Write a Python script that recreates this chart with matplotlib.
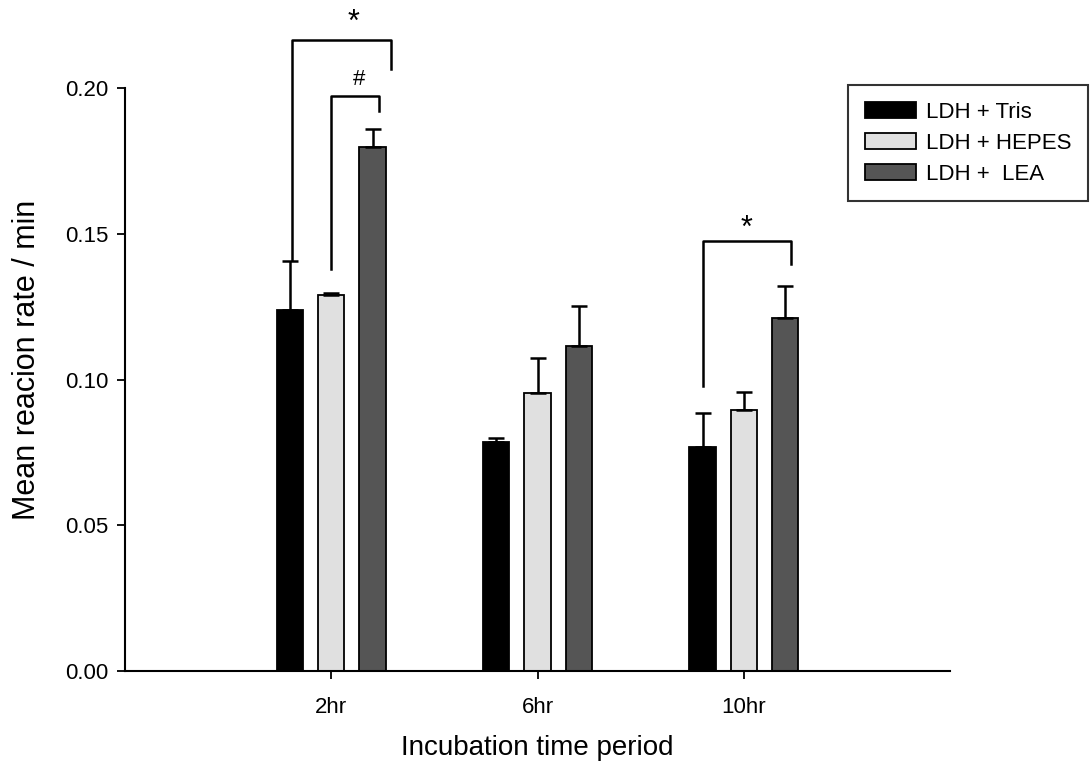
import matplotlib
matplotlib.use("Agg")
import matplotlib.pyplot as plt
import numpy as np

plt.rcParams['font.family'] = ['Liberation Sans', 'DejaVu Sans']

# data
time_labels = ['2hr', '6hr', '10hr']
series_names = ['LDH + Tris', 'LDH + HEPES', 'LDH +  LEA']
tris_mean = [0.124, 0.0785, 0.0769]
tris_err = [0.0165, 0.0016, 0.0116]
hepes_mean = [0.129, 0.0953, 0.0895]
hepes_err = [0.0006, 0.0120, 0.0063]
lea_mean = [0.1797, 0.1115, 0.121]
lea_err = [0.0064, 0.0137, 0.0111]

means = [tris_mean, hepes_mean, lea_mean]
errs = [tris_err, hepes_err, lea_err]
colors = ['#000000', '#e0e0e0', '#555555']

fig = plt.figure(figsize=(10.91, 7.72), dpi=100)
ax = fig.add_axes([125 / 1091, 1 - 671 / 772, 825 / 1091, (671 - 88) / 772])

x = np.arange(len(time_labels))
width = 0.128
offsets = [-0.2, 0.0, 0.2]

for m, e, c, name, off in zip(means, errs, colors, series_names, offsets):
    ax.bar(x + off, m, width, color=c, edgecolor='black', linewidth=1.3,
           label=name, zorder=2)
    ax.errorbar(x + off, m, yerr=[np.zeros(len(e)), e], fmt='none',
                ecolor='black', elinewidth=1.8, capsize=6, capthick=1.8,
                zorder=3)

ax.set_xlim(-1.0, 3.0)
ax.set_ylim(0, 0.2)
ax.set_xticks(x)
ax.set_xticklabels(time_labels)
ax.set_yticks([0.0, 0.05, 0.10, 0.15, 0.20])
ax.yaxis.set_major_formatter(matplotlib.ticker.FormatStrFormatter('%.2f'))

for s in ['top', 'right']:
    ax.spines[s].set_visible(False)
for s in ['left', 'bottom']:
    ax.spines[s].set_linewidth(1.5)
ax.tick_params(direction='out', length=6, width=1.3, labelsize=16)
ax.tick_params(axis='x', pad=13)
ax.tick_params(axis='y', pad=6)

ax.set_xlabel('Incubation time period', fontsize=20, labelpad=12)
ax.set_ylabel('Mean reacion rate / min', fontsize=22)
ax.yaxis.set_label_coords(-0.1, 0.533)

# significance brackets
def bracket(x0, x1, y_top, y0, y1, mark, mark_x, mark_y, size):
    ax.plot([x0, x0, x1, x1], [y0, y_top, y_top, y1], color='black',
            lw=1.8, clip_on=False, zorder=4)
    ax.text(mark_x, mark_y, mark, ha='center', va='center', fontsize=size)

bracket(-0.19, 0.29, 0.2165, 0.1409, 0.2065, '*', 0.11, 0.2225, 22)
bracket(0.0, 0.23, 0.1973, 0.1378, 0.1921, '#', 0.135, 0.2030, 16)
bracket(1.8, 2.23, 0.1474, 0.0976, 0.1395, '*', 2.015, 0.1515, 22)

leg = ax.legend(loc='upper left', bbox_to_anchor=(848 / 1091, 1 - 85 / 772),
                bbox_transform=fig.transFigure, fontsize=16, frameon=True,
                fancybox=False, edgecolor='black', borderaxespad=0,
                borderpad=0.75, handlelength=2.3, handleheight=0.75,
                handletextpad=0.45, labelspacing=0.45)
leg.get_frame().set_linewidth(1.5)

fig.savefig('out.png', dpi=100)
